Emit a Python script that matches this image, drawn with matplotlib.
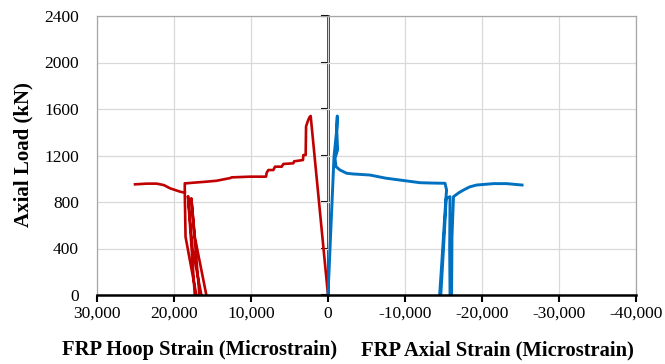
import matplotlib
matplotlib.use("Agg")
import matplotlib.pyplot as plt
from matplotlib.ticker import FuncFormatter

# ---- data (microstrain, kN) ----
hoop_main_x = [0, 2250, 2400, 2600, 2850, 2900, 3200, 3250, 4400, 4500, 5800, 6010, 6880, 7100,
               7750, 7960, 8050, 10130, 12500, 12700, 14450, 15750, 17500, 18350, 18600, 18600,
               18500, 17100, 17300, 18180, 17600, 16450, 16700, 17750, 17300, 15800]
hoop_main_y = [0, 1540, 1530, 1500, 1450, 1204, 1204, 1161, 1150, 1133, 1127, 1104, 1104, 1075,
               1075, 1052, 1018, 1018, 1012, 1006, 983, 975, 966, 961, 961, 880,
               500, 0, 0, 850, 400, 0, 0, 832, 500, 0]
hoop_tail_x = [18600, 19220, 20520, 21300, 22250, 23500, 25060]
hoop_tail_y = [880, 889, 918, 945, 958, 958, 952]

axial_x = [0, -780, -1100, -1210, -1150, -1250, -910, -1040, -1560, -2430, -3290, -5450, -7500,
           -9780, -11950, -13500, -15200, -15400, -15300, -14800, -14500, -14650, -15000, -15350,
           -15850, -15800, -15850, -16050, -16100, -16300, -17000, -17600, -18400, -19300,
           -21500, -23200, -25200]
axial_y = [0, 1190, 1400, 1540, 1400, 1250, 1176, 1104, 1075, 1047, 1041, 1032, 1005,
           985, 966, 963, 961, 903, 820, 300, 0, 0, 400, 830,
           846, 400, 0, 0, 500, 846, 880, 903, 930, 946,
           958, 958, 946]

x_ticks = [30000, 20000, 10000, 0, -10000, -20000, -30000, -40000]
y_ticks = [0, 400, 800, 1200, 1600, 2000, 2400]

plt.rcParams['font.family'] = ['Liberation Serif', 'DejaVu Serif']

fig = plt.figure(figsize=(6.65, 3.64), dpi=100)
ax = fig.add_axes([97/665, 1-295/364, (636-97)/665, (295-16)/364])

ax.plot(hoop_main_x, hoop_main_y, color='#C00000', lw=1.9, solid_joinstyle='round')
ax.plot(hoop_tail_x, hoop_tail_y, color='#C00000', lw=1.9, solid_joinstyle='round')
ax.plot(axial_x, axial_y, color='#0070C0', lw=2.1, solid_joinstyle='round')

ax.set_xlim(30000, -40000)
ax.set_ylim(0, 2400)
ax.set_xticks(x_ticks)
ax.set_yticks(y_ticks)
ax.xaxis.set_major_formatter(FuncFormatter(lambda v, p: f"{int(v):,}"))
ax.grid(True, color='#D9D9D9', lw=0.9)
ax.set_axisbelow(True)

for s in ['left', 'right', 'top']:
    ax.spines[s].set_color('#A6A6A6')
    ax.spines[s].set_linewidth(0.9)
ax.spines['bottom'].set_color('black')
ax.spines['bottom'].set_linewidth(1.8)
ax.spines['bottom'].set_zorder(5)

ax.tick_params(axis='x', direction='out', length=5, width=1.5, color='black',
               labelsize=12.5, pad=3)
ax.tick_params(axis='y', length=0, labelsize=12.5, pad=13)

# y axis line at x = 0 with its ticks
sec = ax.secondary_yaxis(30000/70000)
sec.set_yticks(y_ticks)
sec.set_yticklabels([])
sec.spines['left'].set_linewidth(1.8)
sec.spines['left'].set_color('black')
sec.yaxis.set_ticks_position('left')
sec.tick_params(axis='y', direction='out', length=5, width=1.5, color='black',
                left=True, right=False)

fig.text(23/665, 1-155/364, 'Axial Load (kN)', rotation=90, ha='center', va='center',
         fontsize=15, fontweight='bold')
fig.text(200/665, 1-350/364, 'FRP Hoop Strain (Microstrain)', ha='center', va='center',
         fontsize=14.8, fontweight='bold')
fig.text(497/665, 1-350/364, 'FRP Axial Strain (Microstrain)', ha='center', va='center',
         fontsize=14.8, fontweight='bold')

fig.savefig('out.png', dpi=100)
